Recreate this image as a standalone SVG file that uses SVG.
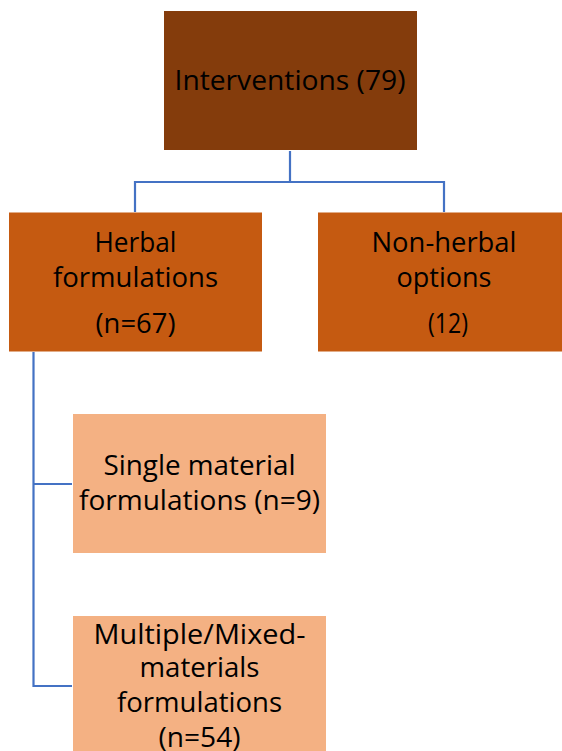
<svg xmlns="http://www.w3.org/2000/svg" width="562" height="751" viewBox="0 0 562 751">
<style>
text{font-family:"Open Sans","Noto Sans","Liberation Sans",sans-serif;font-size:27px;fill:#000;text-anchor:middle}
.l1{fill:#843C0C}
.l2{fill:#C55A11}
.l3{fill:#F4B183}
.c{fill:none;stroke:#4472C4;stroke-width:2.2}
</style>
<rect width="562" height="751" fill="#fff"/>
<g id="connectors">
<path class="c" d="M290,151 V182 M135,212 V182 H444 V212"/>
<path class="c" d="M33.5,352 V686 H72 M33.5,484 H72"/>
</g>
<g id="interventions">
<rect class="l1" x="164" y="11" width="253" height="139"/>
<text x="290" y="90" textLength="231" lengthAdjust="spacingAndGlyphs">Interventions (79)</text>
</g>
<g id="herbal">
<rect class="l2" x="9" y="212.5" width="253" height="139"/>
<text x="135.5" y="252" textLength="82" lengthAdjust="spacingAndGlyphs">Herbal</text>
<text x="135.5" y="287" textLength="165" lengthAdjust="spacingAndGlyphs">formulations</text>
<text x="135.5" y="333" textLength="80" lengthAdjust="spacingAndGlyphs">(n=67)</text>
</g>
<g id="nonherbal">
<rect class="l2" x="318" y="212.5" width="253" height="139"/>
<text x="444" y="252" textLength="145" lengthAdjust="spacingAndGlyphs">Non-herbal</text>
<text x="444" y="287" textLength="95" lengthAdjust="spacingAndGlyphs">options</text>
<text x="448" y="333" textLength="40" lengthAdjust="spacingAndGlyphs">(12)</text>
</g>
<g id="single">
<rect class="l3" x="73" y="414" width="253" height="139"/>
<text x="199.5" y="475" textLength="192" lengthAdjust="spacingAndGlyphs">Single material</text>
<text x="199.5" y="510" textLength="241" lengthAdjust="spacingAndGlyphs">formulations (n=9)</text>
</g>
<g id="multiple">
<rect class="l3" x="73" y="616" width="253" height="139"/>
<text x="199.5" y="643.5" textLength="212" lengthAdjust="spacingAndGlyphs">Multiple/Mixed-</text>
<text x="199.5" y="677" textLength="120" lengthAdjust="spacingAndGlyphs">materials</text>
<text x="199.5" y="712" textLength="165" lengthAdjust="spacingAndGlyphs">formulations</text>
<text x="199.5" y="747" textLength="82" lengthAdjust="spacingAndGlyphs">(n=54)</text>
</g>
</svg>
